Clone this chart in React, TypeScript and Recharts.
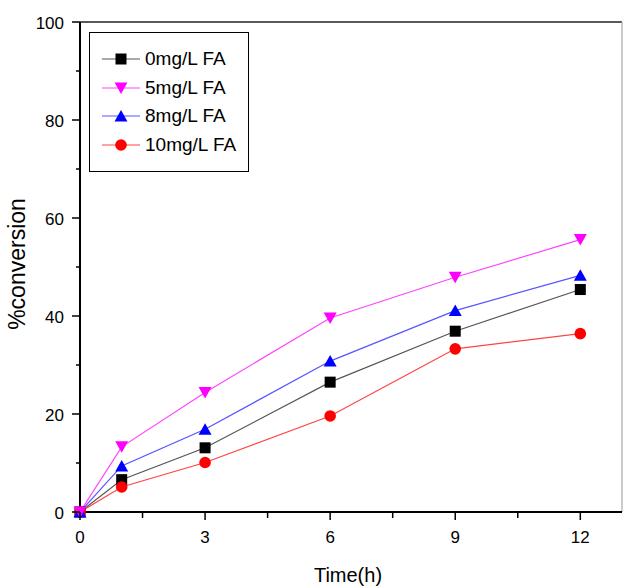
import React from 'react';
import { LineChart, Line, XAxis, YAxis, ReferenceLine } from 'recharts';

const times = [0, 1, 3, 6, 9, 12];
const fa0 = [0, 6.6, 13.1, 26.5, 36.9, 45.4];
const fa5 = [0, 13.3, 24.4, 39.6, 47.9, 55.6];
const fa8 = [0, 9.4, 16.9, 30.8, 41.1, 48.3];
const fa10 = [0, 5.1, 10.1, 19.6, 33.3, 36.4];

const seriesNames = ['0mg/L FA', '5mg/L FA', '8mg/L FA', '10mg/L FA'];
const xTicks = [0, 1.5, 3, 4.5, 6, 7.5, 9, 10.5, 12];
const xLabels = [0, 3, 6, 9, 12];
const yTicks = [0, 10, 20, 30, 40, 50, 60, 70, 80, 90, 100];
const yLabels = [0, 20, 40, 60, 80, 100];

const data = times.map((t, i) => ({ t, a: fa0[i], b: fa5[i], c: fa8[i], d: fa10[i] }));

const FONT = '"Liberation Sans", Arial, sans-serif';

const styles = [
  { key: 'a', line: '#555555', fill: '#000000', shape: 'square' },
  { key: 'b', line: '#ff44ff', fill: '#ff00ff', shape: 'down' },
  { key: 'c', line: '#5555ff', fill: '#0000ff', shape: 'up' },
  { key: 'd', line: '#ff4444', fill: '#ff0000', shape: 'circle' },
];

function Marker({ cx, cy, shape, fill }: any) {
  if (cx == null || cy == null) return null;
  if (shape === 'square') return <rect x={cx - 5.5} y={cy - 5.5} width={11} height={11} fill={fill} />;
  if (shape === 'down')
    return <polygon points={`${cx - 6.5},${cy - 5.5} ${cx + 6.5},${cy - 5.5} ${cx},${cy + 6}`} fill={fill} />;
  if (shape === 'up')
    return <polygon points={`${cx - 6.5},${cy + 5.5} ${cx + 6.5},${cy + 5.5} ${cx},${cy - 6}`} fill={fill} />;
  return <circle cx={cx} cy={cy} r={5.8} fill={fill} />;
}

function XTick({ x, y, payload }: any) {
  const major = xLabels.includes(payload.value);
  return (
    <g>
      <line x1={x} x2={x} y1={y} y2={y + (major ? 8 : 6)} stroke="#000" strokeWidth={1.5} />
      {major && (
        <text x={x} y={y + 31} textAnchor="middle" fontSize={17} fontFamily={FONT} fill="#000">
          {payload.value}
        </text>
      )}
    </g>
  );
}

function YTick({ x, y, payload }: any) {
  const major = yLabels.includes(payload.value);
  return (
    <g>
      <line x1={x} x2={x - (major ? 8 : 4)} y1={y} y2={y} stroke="#000" strokeWidth={1.5} />
      {major && (
        <text x={x - 16} y={y + 6.5} textAnchor="end" fontSize={17} fontFamily={FONT} fill="#000">
          {payload.value}
        </text>
      )}
    </g>
  );
}

function LegendBox() {
  return (
    <div
      style={{
        position: 'absolute',
        left: 89,
        top: 32,
        width: 158,
        height: 138,
        border: '1.5px solid #000',
        background: '#fff',
        fontFamily: FONT,
      }}
    >
      {styles.map((s, i) => (
        <div key={s.key} style={{ position: 'absolute', left: 0, top: 14 + i * 28.5, width: 158, height: 24 }}>
          <svg width={46} height={24} style={{ position: 'absolute', left: 10, top: 0 }}>
            <line x1={2} x2={40} y1={12} y2={12} stroke={s.line} strokeWidth={1.2} />
            <Marker cx={21} cy={12} shape={s.shape} fill={s.fill} />
          </svg>
          <span
            style={{
              position: 'absolute',
              left: 55,
              top: 0,
              lineHeight: '24px',
              fontSize: 19,
              color: '#000',
              whiteSpace: 'nowrap',
            }}
          >
            {seriesNames[i]}
          </span>
        </div>
      ))}
    </div>
  );
}

export default function App() {
  return (
    <div style={{ position: 'absolute', left: 0, top: 0, width: 623, height: 588, background: '#fff' }}>
      <LineChart width={623} height={588} data={data} margin={{ top: 22, right: 1, bottom: 0, left: 0 }}>
        <XAxis
          dataKey="t"
          type="number"
          domain={[0, 13]}
          ticks={xTicks}
          interval={0}
          tickSize={0}
          tickMargin={0}
          tick={<XTick />}
          height={76}
          stroke="#000"
          strokeWidth={2}
          label={{
            content: () => (
              <text x={348} y={582} textAnchor="middle" fontSize={20} fontFamily={FONT} fill="#000">
                Time(h)
              </text>
            ),
          }}
        />
        <YAxis
          type="number"
          domain={[0, 100]}
          ticks={yTicks}
          interval={0}
          tickSize={0}
          tickMargin={0}
          tick={<YTick />}
          width={80}
          stroke="#000"
          strokeWidth={2}
          label={{
            content: () => (
              <text
                x={17}
                y={264}
                textAnchor="middle"
                fontSize={23}
                fontFamily={FONT}
                fill="#000"
                transform="rotate(-90 17 264)"
                dominantBaseline="central"
              >
                %conversion
              </text>
            ),
          }}
        />
        <ReferenceLine y={100} stroke="#222" strokeWidth={1.5} />
        <ReferenceLine x={13} stroke="#aaa" strokeWidth={1.2} />
        {[styles[0], styles[3], styles[2], styles[1]].map((s) => (
          <Line
            key={s.key}
            dataKey={s.key}
            type="linear"
            stroke={s.line}
            strokeWidth={1.2}
            isAnimationActive={false}
            dot={(p: any) => <Marker key={`${s.key}-${p.index}`} cx={p.cx} cy={p.cy} shape={s.shape} fill={s.fill} />}
            activeDot={false}
          />
        ))}
      </LineChart>
      <LegendBox />
    </div>
  );
}
